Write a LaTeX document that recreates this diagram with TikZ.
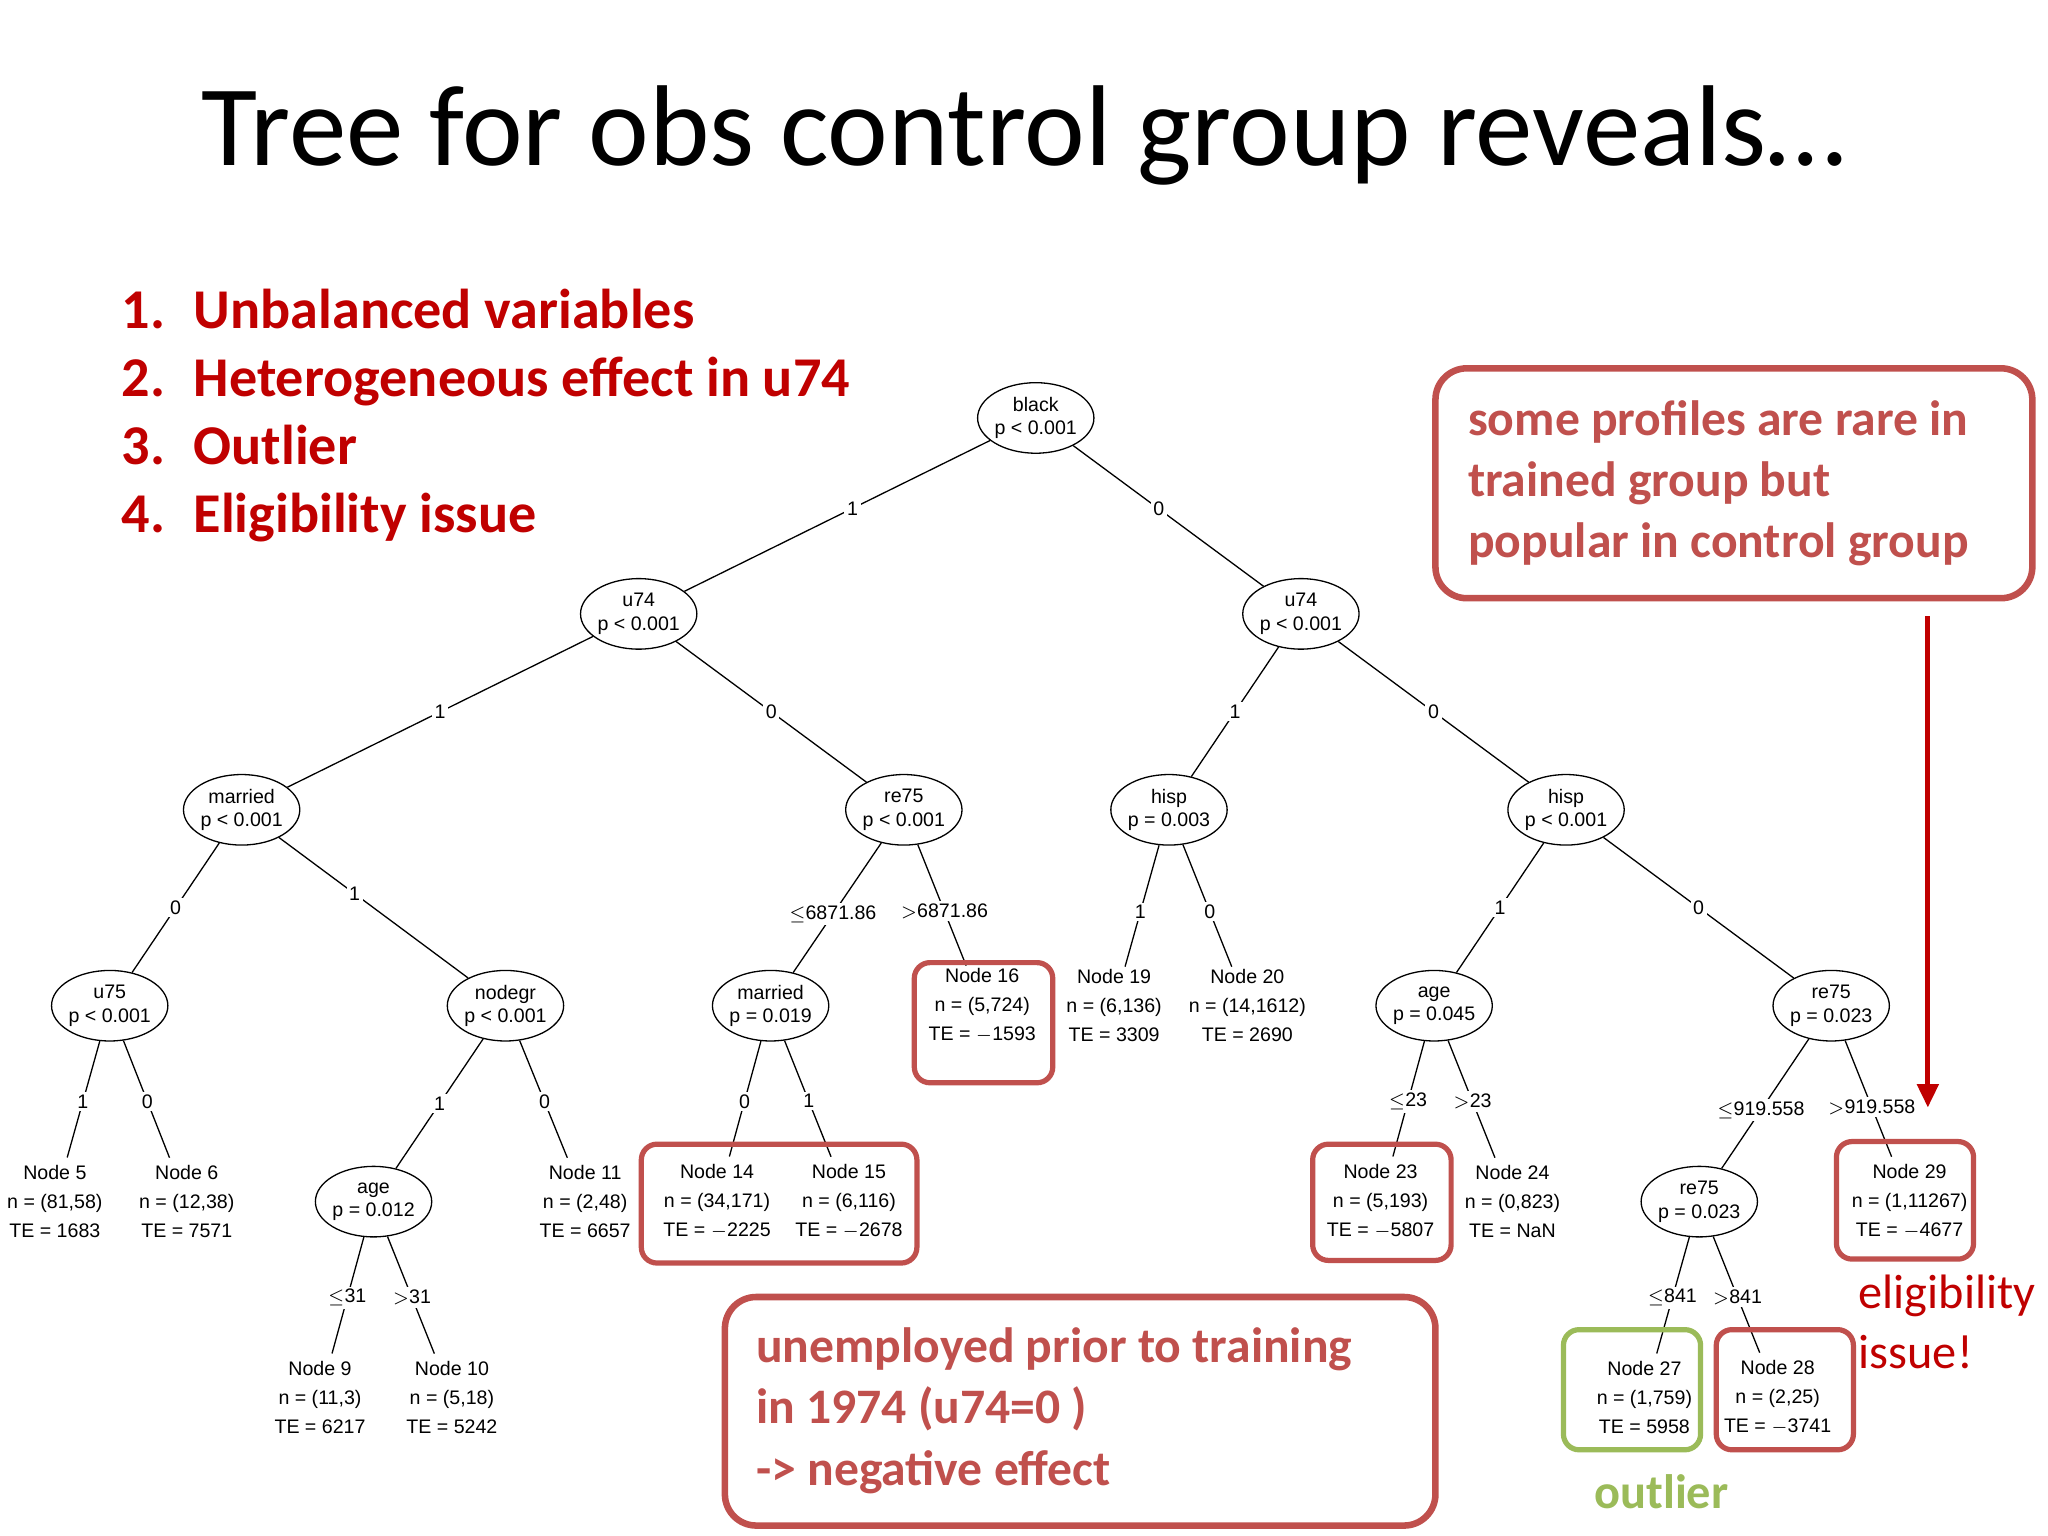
\documentclass[tikz,border=0pt]{standalone}
\usepackage{fontspec}
\usetikzlibrary{shapes.geometric,arrows.meta}
\setmainfont{Carlito}
\newfontfamily\treefont{Liberation Sans}
\definecolor{dred}{RGB}{192,0,0}
\definecolor{bred}{RGB}{192,80,77}
\definecolor{ogreen}{RGB}{155,187,89}
\begin{document}
\begin{tikzpicture}[x=0.5pt,y=-0.5pt,
  en/.style={ellipse,draw,line width=0.5pt,minimum width=42pt,minimum height=27pt,inner sep=0pt,align=center,font=\treefont\fontsize{7.5}{9}\selectfont},
  lf/.style={align=center,inner sep=1pt,font=\treefont\fontsize{7.5}{11}\selectfont},
  ed/.style={line width=0.5pt},
  el/.style={fill=white,inner sep=1pt,font=\treefont\fontsize{7.5}{9}\selectfont},
  rb/.style={draw=bred,line width=2pt,rounded corners=6pt},
  gb/.style={draw=ogreen,line width=2pt,rounded corners=6pt}]
\useasboundingbox[fill=white] (0,0) rectangle (1568,1176);
\node[font=\fontsize{44}{50}\selectfont] (title) at (784,104) {Tree for obs control group reveals\dots};
\node[anchor=west,text=dred,font=\bfseries\fontsize{21.5}{26}\selectfont,align=left] (list) at (86,318)
 {1.\hspace{11pt}Unbalanced variables\\[0pt]2.\hspace{11pt}Heterogeneous effect in u74\\3.\hspace{11pt}Outlier\\4.\hspace{11pt}Eligibility issue};
% inner nodes
\node[en] (black) at (793,320) {black\\p < 0.001};
\node[en] (u74l) at (489,470) {u74\\p < 0.001};
\node[en] (u74r) at (996,470) {u74\\p < 0.001};
\node[en] (mar) at (185,620) {married\\p < 0.001};
\node[en] (re75) at (692,620) {re75\\p < 0.001};
\node[en] (hisp) at (895,620) {hisp\\p = 0.003};
\node[en] (hispr) at (1199,620) {hisp\\p < 0.001};
\node[en] (u75) at (84,770) {u75\\p < 0.001};
\node[en] (nod) at (387,770) {nodegr\\p < 0.001};
\node[en] (mar2) at (590,770) {married\\p = 0.019};
\node[en] (age) at (1098,770) {age\\p = 0.045};
\node[en] (re75r) at (1402,770) {re75\\p = 0.023};
\node[en] (age2) at (286,920) {age\\p = 0.012};
\node[en] (re75rr) at (1301,920) {re75\\p = 0.023};
% leaves
\node[lf] (n5) at (42,920) {Node 5\\n = (81,58)\\TE = 1683};
\node[lf] (n6) at (143,920) {Node 6\\n = (12,38)\\TE = 7571};
\node[lf] (n9) at (245,1070) {Node 9\\n = (11,3)\\TE = 6217};
\node[lf] (n10) at (346,1070) {Node 10\\n = (5,18)\\TE = 5242};
\node[lf] (n11) at (448,920) {Node 11\\n = (2,48)\\TE = 6657};
\node[lf] (n14) at (549,920) {Node 14\\n = (34,171)\\TE = $-$2225};
\node[lf] (n15) at (650,920) {Node 15\\n = (6,116)\\TE = $-$2678};
\node[lf] (n16) at (752,770) {Node 16\\n = (5,724)\\TE = $-$1593};
\node[lf] (n19) at (853,770) {Node 19\\n = (6,136)\\TE = 3309};
\node[lf] (n20) at (955,770) {Node 20\\n = (14,1612)\\TE = 2690};
\node[lf] (n23) at (1057,920) {Node 23\\n = (5,193)\\TE = $-$5807};
\node[lf] (n24) at (1158,920) {Node 24\\n = (0,823)\\TE = NaN};
\node[lf] (n27) at (1259,1070) {Node 27\\n = (1,759)\\TE = 5958};
\node[lf] (n28) at (1361,1070) {Node 28\\n = (2,25)\\TE = $-$3741};
\node[lf] (n29) at (1462,920) {Node 29\\n = (1,11267)\\TE = $-$4677};
% edges
\draw[ed] (black) -- node[el,pos=0.45]{1} (u74l);
\draw[ed] (black) -- node[el,pos=0.45]{0} (u74r);
\draw[ed] (u74l) -- node[el,pos=0.5]{1} (mar);
\draw[ed] (u74l) -- node[el,pos=0.5]{0} (re75);
\draw[ed] (u74r) -- node[el,pos=0.5]{1} (hisp);
\draw[ed] (u74r) -- node[el,pos=0.5]{0} (hispr);
\draw[ed] (mar) -- node[el]{0} (u75);
\draw[ed] (mar) -- node[el,pos=0.4]{1} (nod);
\draw[ed] (re75) -- node[el,pos=0.55]{$\le$6871.86} (mar2);
\draw[ed] (re75) -- node[el,pos=0.55]{$>$6871.86} (n16);
\draw[ed] (hisp) -- node[el,pos=0.55]{1} (n19);
\draw[ed] (hisp) -- node[el,pos=0.55]{0} (n20);
\draw[ed] (hispr) -- node[el]{1} (age);
\draw[ed] (hispr) -- node[el]{0} (re75r);
\draw[ed,shorten >=2pt] (u75) -- node[el]{1} (n5);
\draw[ed,shorten >=2pt] (u75) -- node[el]{0} (n6);
\draw[ed] (nod) -- node[el]{1} (age2);
\draw[ed,shorten >=2pt] (nod) -- node[el]{0} (n11);
\draw[ed,shorten >=2pt] (mar2) -- node[el]{0} (n14);
\draw[ed,shorten >=2pt] (mar2) -- node[el]{1} (n15);
\draw[ed,shorten >=2pt] (age2) -- node[el]{$\le$31} (n9);
\draw[ed,shorten >=2pt] (age2) -- node[el]{$>$31} (n10);
\draw[ed,shorten >=2pt] (age) -- node[el]{$\le$23} (n23);
\draw[ed,shorten >=2pt] (age) -- node[el]{$>$23} (n24);
\draw[ed] (re75r) -- node[el,pos=0.55]{$\le$919.558} (re75rr);
\draw[ed,shorten >=2pt] (re75r) -- node[el,pos=0.55]{$>$919.558} (n29);
\draw[ed,shorten >=2pt] (re75rr) -- node[el]{$\le$841} (n27);
\draw[ed,shorten >=2pt] (re75rr) -- node[el]{$>$841} (n28);
% highlight boxes
\draw[rb] (700,737) rectangle (806,829);
\draw[rb] (491,876) rectangle (702,967);
\draw[rb] (1005,876) rectangle (1111,965);
\draw[rb] (1406,874) rectangle (1511,964);
\draw[rb] (1314,1018) rectangle (1419,1110);
\draw[gb] (1197,1018) rectangle (1302,1110);
\draw[rb,line width=2.5pt,rounded corners=12pt] (1099,282) rectangle (1556,458);
\node[anchor=west,text=bred,font=\bfseries\fontsize{19}{23.5}\selectfont,align=left] (note1) at (1117,370)
 {some profiles are rare in\\trained group but\\popular in control group};
\draw[rb,line width=2.5pt,rounded corners=12pt] (555,993) rectangle (1099,1168);
\node[anchor=west,text=bred,font=\bfseries\fontsize{19}{23.5}\selectfont,align=left] (note2) at (572,1080)
 {unemployed prior to training\\in 1974 (u74=0 )\\-> negative effect};
\coordinate (at) at (1476,472);
\coordinate (ab) at (1476,848);
\draw[dred,line width=2pt,-{Triangle[length=9pt,width=8pt]}] (at) -- (ab);
\node[anchor=west,text=dred,font=\fontsize{18.5}{23}\selectfont,align=left] (elig) at (1416,1012) {eligibility\\issue!};
\node[text=ogreen,font=\bfseries\fontsize{18.5}{22}\selectfont] (outl) at (1272,1142) {outlier};
\end{tikzpicture}
\end{document}
